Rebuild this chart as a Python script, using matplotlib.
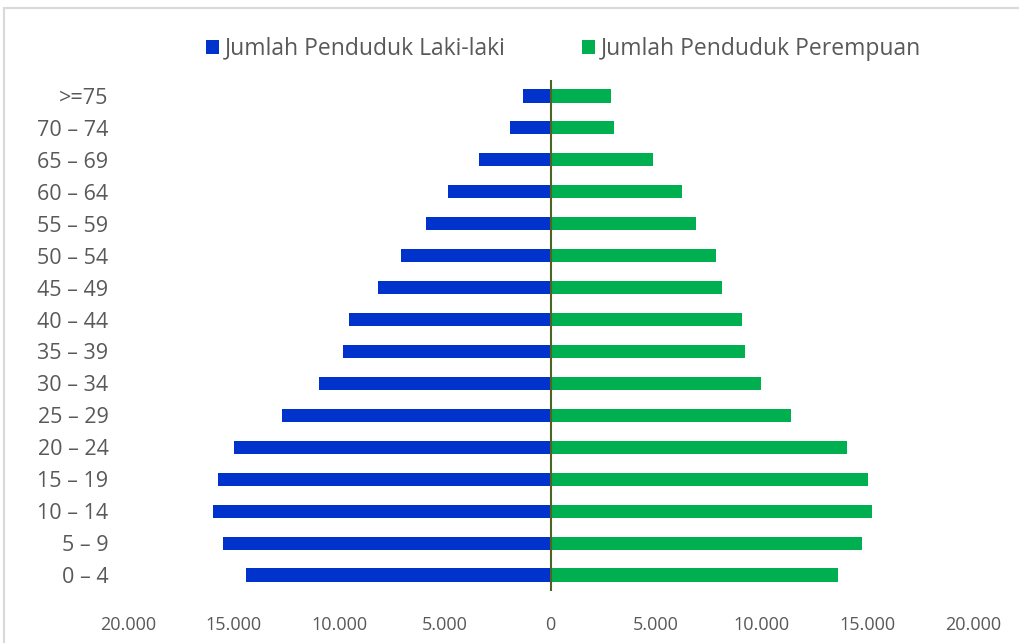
import matplotlib.pyplot as plt
import matplotlib.patches as patches
from matplotlib.ticker import FuncFormatter

# age groups, from the oldest (top) to the youngest (bottom)
age_groups = [">=75", "70 – 74", "65 – 69", "60 – 64", "55 – 59", "50 – 54",
              "45 – 49", "40 – 44", "35 – 39", "30 – 34", "25 – 29", "20 – 24",
              "15 – 19", "10 – 14", "5 – 9", "0 – 4"]
laki_laki = [1290, 1900, 3370, 4830, 5880, 7060, 8150, 9530, 9810, 10950,
             12700, 14980, 15740, 15970, 15500, 14410]
perempuan = [2840, 3020, 4830, 6210, 6870, 7820, 8100, 9050, 9190, 9950,
             11370, 14030, 15020, 15210, 14740, 13600]
x_ticks = [-20000, -15000, -10000, -5000, 0, 5000, 10000, 15000, 20000]

plt.rcParams['font.family'] = ['Open Sans', 'DejaVu Sans']
text_color = '#595959'

fig = plt.figure(figsize=(10.19, 6.43), dpi=100)
ax = fig.add_axes([0.1256, 0.0809, 0.8293, 0.7947])

# chart border (cut off on the right and bottom)
fig.patches.append(patches.Rectangle((4 / 1019, -0.1), 1.2, 1 - 8 / 643 + 0.1,
                                     transform=fig.transFigure, fill=False,
                                     edgecolor='#D9D9D9', linewidth=1.5))

y = list(range(len(age_groups)))
ax.barh(y, [-v for v in laki_laki], height=0.41, color='#0033CC',
        label='Jumlah Penduduk Laki-laki')
ax.barh(y, perempuan, height=0.41, color='#00B050',
        label='Jumlah Penduduk Perempuan')
ax.axvline(0, color='#4F6228', linewidth=1.5)

ax.set_xlim(-20000, 20000)
ax.set_ylim(len(age_groups) - 0.5, -0.5)
ax.set_yticks(y)
ax.set_yticklabels(age_groups)
ax.set_xticks(x_ticks)
ax.xaxis.set_major_formatter(FuncFormatter(
    lambda v, p: '0' if v == 0 else f"{abs(int(v)):,}".replace(',', '.')))

ax.tick_params(axis='y', length=0, pad=14, labelsize=15.5, labelcolor=text_color)
ax.tick_params(axis='x', length=0, pad=18, labelsize=13, labelcolor=text_color)
for s in ax.spines.values():
    s.set_visible(False)

fig.legend(loc='center', bbox_to_anchor=(0.553, 0.924), ncol=2, frameon=False,
           fontsize=16.5, labelcolor=text_color, handlelength=0.57,
           handleheight=0.57, handletextpad=0.26, columnspacing=3.3)

fig.savefig('out.png', dpi=100)
